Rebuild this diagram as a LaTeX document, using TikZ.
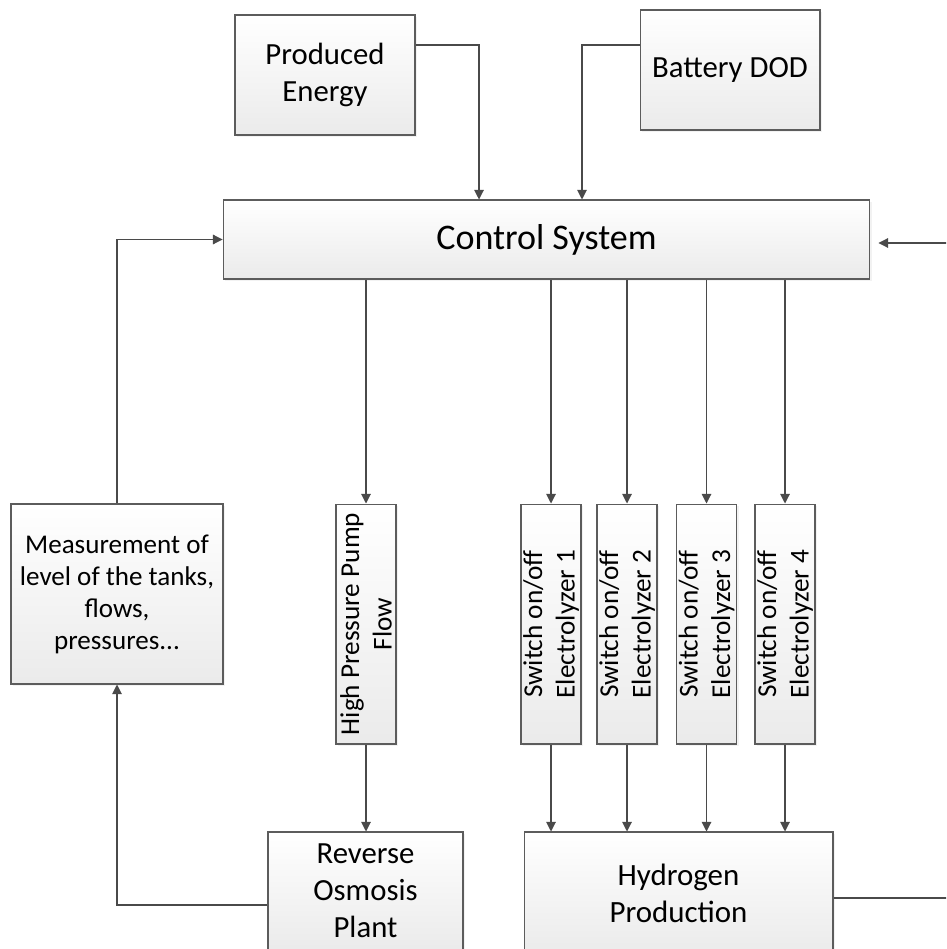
\documentclass[tikz,border=0pt]{standalone}
\usepackage{fontspec}
\setmainfont{Carlito}
\usetikzlibrary{arrows.meta,shadows}

\definecolor{linegray}{HTML}{4A4A4A}
\definecolor{boxline}{HTML}{5C5C5C}

\tikzset{
	block/.style={draw=boxline, line width=0.6pt, top color=white, bottom color=black!8,
		drop shadow={shadow xshift=1.2pt, shadow yshift=-1.2pt, fill=black!10},
		align=center, inner sep=0pt, font=\fontsize{17.5}{21}\selectfont},
	vblock/.style={block, rotate=90, minimum width=4.8cm, minimum height=1.2cm,
		font=\fontsize{15.5}{18.5}\selectfont},
	link/.style={draw=linegray, line width=0.6pt,
		-{Triangle[length=5.5pt,width=5.5pt]}},
}

\begin{document}
\begin{tikzpicture}[x=0.02cm, y=-0.02cm]
	\useasboundingbox (0,0) rectangle (946,949);
	\clip (0,0) rectangle (946,949);

	% Draw blocks
	\node[block, minimum width=3.6cm, minimum height=2.4cm] (prod) at (325,75) {Produced\\Energy};
	\node[block, minimum width=3.6cm, minimum height=2.4cm] (batt) at (730,70) {Battery DOD};
	\node[block, minimum width=12.94cm, minimum height=1.58cm,
		font=\fontsize{20.5}{24}\selectfont] (ctrl) at (546.5,239.5) {Control System};
	\node[block, minimum width=4.24cm, minimum height=3.6cm,
		font=\fontsize{15.4}{18.2}\selectfont] (meas) at (117,594)
		{Measurement of\\level of the tanks,\\flows,\\pressures...};
	\node[vblock] (pump) at (366,624) {High Pressure Pump\\Flow};
	\node[vblock] (el1) at (551,624) {Switch on/off\\Electrolyzer 1};
	\node[vblock] (el2) at (627,624) {Switch on/off\\Electrolyzer 2};
	\node[vblock] (el3) at (706.5,624) {Switch on/off\\Electrolyzer 3};
	\node[vblock] (el4) at (785,624) {Switch on/off\\Electrolyzer 4};
	\node[block, minimum width=3.9cm, minimum height=2.36cm] (ro) at (365.5,891)
		{Reverse\\Osmosis\\Plant};
	\node[block, minimum width=6.18cm, minimum height=2.44cm,
		font=\fontsize{17.6}{21}\selectfont] (hyd) at (678.5,893) {Hydrogen\\Production};

	% Draw inputs of the control system
	\draw[link] ([yshift=0.6cm]prod.east) -| ([xshift=-1.35cm]ctrl.north);
	\draw[link] ([yshift=0.5cm]batt.west) -| ([xshift=0.71cm]ctrl.north);
	\draw[link] (meas.north) |- (ctrl.west);
	\draw[link] ([yshift=-0.1cm]hyd.east) -- ++(200,0) |- ([yshift=-0.07cm]ctrl.east)
		[shorten >=0.16cm];

	% Draw outputs of the control system
	\draw[link] (ctrl.south -| pump.center) -- (pump.east);
	\foreach \i in {1,...,4}
		\draw[link] (ctrl.south -| el\i.center) -- (el\i.east);

	% Draw plant connections
	\draw[link] (pump.west) -- (pump.west |- ro.north);
	\foreach \i in {1,...,4}
		\draw[link] (el\i.west) -- (el\i.west |- hyd.north);
	\draw[link] ([yshift=-0.28cm]ro.west) -| (meas.south);
\end{tikzpicture}
\end{document}
